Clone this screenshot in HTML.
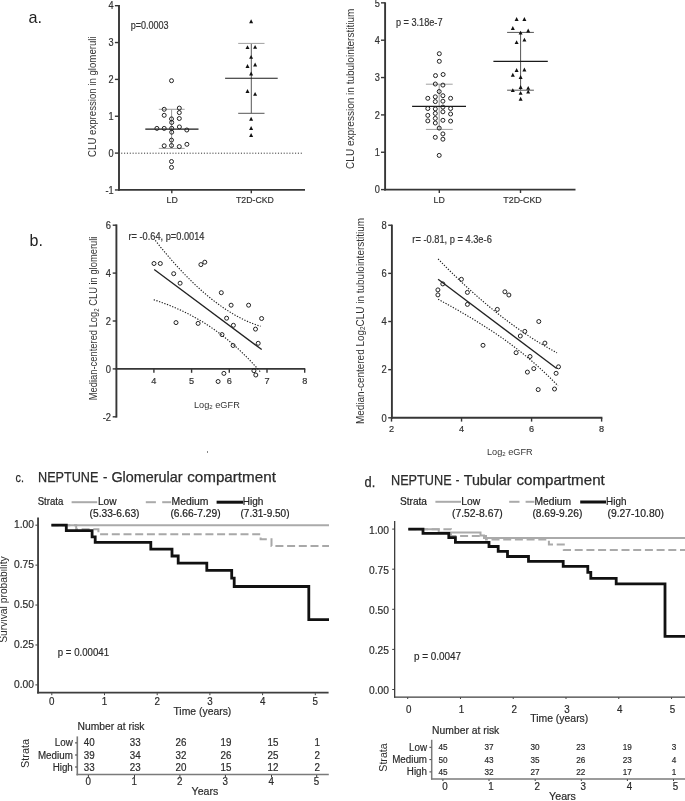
<!DOCTYPE html>
<html><head><meta charset="utf-8"><style>
html,body{margin:0;padding:0;background:#fff;}
svg{display:block;font-family:"Liberation Sans", sans-serif;will-change:transform;}
</style></head><body>
<svg width="685" height="801" viewBox="0 0 685 801">
<rect width="685" height="801" fill="#fff"/>
<text x="28.6" y="22.6" font-size="16.2" fill="#222">a.</text>
<line x1="119" y1="5.0" x2="119" y2="190.8" stroke="#363636" stroke-width="1.9"/>
<line x1="118.1" y1="189.9" x2="305" y2="189.9" stroke="#363636" stroke-width="1.9"/>
<line x1="114.9" y1="5.699999999999989" x2="119" y2="5.699999999999989" stroke="#363636" stroke-width="1.4"/>
<text transform="translate(113.7,9.4) scale(1,1.1)" font-size="9.2" text-anchor="end" fill="#333" stroke="#333" stroke-width="0.18">4</text>
<line x1="114.9" y1="42.54999999999998" x2="119" y2="42.54999999999998" stroke="#363636" stroke-width="1.4"/>
<text transform="translate(113.7,46.25) scale(1,1.1)" font-size="9.2" text-anchor="end" fill="#333" stroke="#333" stroke-width="0.18">3</text>
<line x1="114.9" y1="79.39999999999999" x2="119" y2="79.39999999999999" stroke="#363636" stroke-width="1.4"/>
<text transform="translate(113.7,83.1) scale(1,1.1)" font-size="9.2" text-anchor="end" fill="#333" stroke="#333" stroke-width="0.18">2</text>
<line x1="114.9" y1="116.25" x2="119" y2="116.25" stroke="#363636" stroke-width="1.4"/>
<text transform="translate(113.7,119.95) scale(1,1.1)" font-size="9.2" text-anchor="end" fill="#333" stroke="#333" stroke-width="0.18">1</text>
<line x1="114.9" y1="153.1" x2="119" y2="153.1" stroke="#363636" stroke-width="1.4"/>
<text transform="translate(113.7,156.8) scale(1,1.1)" font-size="9.2" text-anchor="end" fill="#333" stroke="#333" stroke-width="0.18">0</text>
<line x1="114.9" y1="189.95" x2="119" y2="189.95" stroke="#363636" stroke-width="1.4"/>
<text transform="translate(113.7,193.65) scale(1,1.1)" font-size="9.2" text-anchor="end" fill="#333" stroke="#333" stroke-width="0.18">-1</text>
<line x1="171.8" y1="189.9" x2="171.8" y2="193.2" stroke="#363636" stroke-width="1.4"/>
<line x1="251.3" y1="189.9" x2="251.3" y2="193.2" stroke="#363636" stroke-width="1.4"/>
<text transform="translate(172.1,202.9) scale(1,1.1)" font-size="8.8" text-anchor="middle" fill="#333" stroke="#333" stroke-width="0.18">LD</text>
<text transform="translate(236.0,202.9) scale(1,1.1)" font-size="8.8" textLength="37.8" lengthAdjust="spacingAndGlyphs" fill="#333" stroke="#333" stroke-width="0.18">T2D-CKD</text>
<text transform="translate(96.0,156.9) rotate(-90) scale(1,1.08)" font-size="10.0" textLength="120.5" lengthAdjust="spacingAndGlyphs" fill="#333">CLU expression in glomeruli</text>
<text transform="translate(130.7,28.9) scale(1,1.1)" font-size="9.6" textLength="37.9" lengthAdjust="spacingAndGlyphs" fill="#333" stroke="#333" stroke-width="0.18">p=0.0003</text>
<line x1="121.2" y1="153.2" x2="303.5" y2="153.2" stroke="#333" stroke-width="1.0" stroke-dasharray="1.1 1.75"/>
<line x1="171.6" y1="109.3" x2="171.6" y2="148.4" stroke="#999" stroke-width="1.0"/>
<line x1="158.8" y1="109.3" x2="184.7" y2="109.3" stroke="#a0a0a0" stroke-width="1.0"/>
<line x1="158.8" y1="148.4" x2="184.7" y2="148.4" stroke="#a0a0a0" stroke-width="1.0"/>
<line x1="251.3" y1="43.4" x2="251.3" y2="113.3" stroke="#555" stroke-width="1.0"/>
<line x1="238.2" y1="43.4" x2="264.5" y2="43.4" stroke="#a0a0a0" stroke-width="1.0"/>
<line x1="238.2" y1="113.3" x2="264.5" y2="113.3" stroke="#555" stroke-width="1.0"/>
<line x1="145.3" y1="129.1" x2="198.5" y2="129.1" stroke="#1a1a1a" stroke-width="1.15"/>
<line x1="225.1" y1="78.2" x2="277.7" y2="78.2" stroke="#1a1a1a" stroke-width="1.15"/>
<circle cx="171.5" cy="80.7" r="2.0" fill="none" stroke="#222" stroke-width="1.0"/>
<circle cx="164.2" cy="109.3" r="2.0" fill="none" stroke="#222" stroke-width="1.0"/>
<circle cx="179.3" cy="108.1" r="2.0" fill="none" stroke="#222" stroke-width="1.0"/>
<circle cx="164.2" cy="115.3" r="2.0" fill="none" stroke="#222" stroke-width="1.0"/>
<circle cx="179.3" cy="112.6" r="2.0" fill="none" stroke="#222" stroke-width="1.0"/>
<circle cx="171.5" cy="118.9" r="2.0" fill="none" stroke="#222" stroke-width="1.0"/>
<circle cx="179.3" cy="118.5" r="2.0" fill="none" stroke="#222" stroke-width="1.0"/>
<circle cx="171.7" cy="122.5" r="2.0" fill="none" stroke="#222" stroke-width="1.0"/>
<circle cx="156.9" cy="128.4" r="2.0" fill="none" stroke="#222" stroke-width="1.0"/>
<circle cx="164.2" cy="128.4" r="2.0" fill="none" stroke="#222" stroke-width="1.0"/>
<circle cx="171.7" cy="128.3" r="2.0" fill="none" stroke="#222" stroke-width="1.0"/>
<circle cx="179.4" cy="126.9" r="2.0" fill="none" stroke="#222" stroke-width="1.0"/>
<circle cx="186.8" cy="130.0" r="2.0" fill="none" stroke="#222" stroke-width="1.0"/>
<circle cx="171.7" cy="132.2" r="2.0" fill="none" stroke="#222" stroke-width="1.0"/>
<circle cx="171.5" cy="140.1" r="2.0" fill="none" stroke="#222" stroke-width="1.0"/>
<circle cx="164.2" cy="145.8" r="2.0" fill="none" stroke="#222" stroke-width="1.0"/>
<circle cx="171.5" cy="145.5" r="2.0" fill="none" stroke="#222" stroke-width="1.0"/>
<circle cx="179.3" cy="146.6" r="2.0" fill="none" stroke="#222" stroke-width="1.0"/>
<circle cx="186.9" cy="144.3" r="2.0" fill="none" stroke="#222" stroke-width="1.0"/>
<circle cx="171.5" cy="161.5" r="2.0" fill="none" stroke="#222" stroke-width="1.0"/>
<circle cx="171.5" cy="167.4" r="2.0" fill="none" stroke="#222" stroke-width="1.0"/>
<path d="M251.10,19.30L253.10,23.20L249.10,23.20Z" fill="#111"/>
<path d="M247.50,45.20L249.50,49.10L245.50,49.10Z" fill="#111"/>
<path d="M255.10,44.90L257.10,48.80L253.10,48.80Z" fill="#111"/>
<path d="M251.10,54.90L253.10,58.80L249.10,58.80Z" fill="#111"/>
<path d="M247.50,64.00L249.50,67.90L245.50,67.90Z" fill="#111"/>
<path d="M255.10,62.50L257.10,66.40L253.10,66.40Z" fill="#111"/>
<path d="M251.10,71.60L253.10,75.50L249.10,75.50Z" fill="#111"/>
<path d="M247.50,89.10L249.50,93.00L245.50,93.00Z" fill="#111"/>
<path d="M255.10,91.90L257.10,95.80L253.10,95.80Z" fill="#111"/>
<path d="M251.10,116.80L253.10,120.70L249.10,120.70Z" fill="#111"/>
<path d="M251.10,126.00L253.10,129.90L249.10,129.90Z" fill="#111"/>
<path d="M251.10,133.00L253.10,136.90L249.10,136.90Z" fill="#111"/>
<line x1="385.1" y1="2.3" x2="385.1" y2="190.5" stroke="#363636" stroke-width="1.9"/>
<line x1="384.20000000000005" y1="189.6" x2="575.5" y2="189.6" stroke="#363636" stroke-width="1.9"/>
<line x1="381" y1="189.6" x2="385.1" y2="189.6" stroke="#363636" stroke-width="1.4"/>
<text transform="translate(379.8,193.3) scale(1,1.1)" font-size="9.2" text-anchor="end" fill="#333" stroke="#333" stroke-width="0.18">0</text>
<line x1="381" y1="152.25" x2="385.1" y2="152.25" stroke="#363636" stroke-width="1.4"/>
<text transform="translate(379.8,155.95) scale(1,1.1)" font-size="9.2" text-anchor="end" fill="#333" stroke="#333" stroke-width="0.18">1</text>
<line x1="381" y1="114.89999999999999" x2="385.1" y2="114.89999999999999" stroke="#363636" stroke-width="1.4"/>
<text transform="translate(379.8,118.6) scale(1,1.1)" font-size="9.2" text-anchor="end" fill="#333" stroke="#333" stroke-width="0.18">2</text>
<line x1="381" y1="77.54999999999998" x2="385.1" y2="77.54999999999998" stroke="#363636" stroke-width="1.4"/>
<text transform="translate(379.8,81.25) scale(1,1.1)" font-size="9.2" text-anchor="end" fill="#333" stroke="#333" stroke-width="0.18">3</text>
<line x1="381" y1="40.19999999999999" x2="385.1" y2="40.19999999999999" stroke="#363636" stroke-width="1.4"/>
<text transform="translate(379.8,43.9) scale(1,1.1)" font-size="9.2" text-anchor="end" fill="#333" stroke="#333" stroke-width="0.18">4</text>
<line x1="381" y1="2.8499999999999943" x2="385.1" y2="2.8499999999999943" stroke="#363636" stroke-width="1.4"/>
<text transform="translate(379.8,6.55) scale(1,1.1)" font-size="9.2" text-anchor="end" fill="#333" stroke="#333" stroke-width="0.18">5</text>
<line x1="439.3" y1="189.6" x2="439.3" y2="193.0" stroke="#363636" stroke-width="1.4"/>
<line x1="520.5" y1="189.6" x2="520.5" y2="193.0" stroke="#363636" stroke-width="1.4"/>
<text transform="translate(439.2,202.6) scale(1,1.1)" font-size="8.8" text-anchor="middle" fill="#333" stroke="#333" stroke-width="0.18">LD</text>
<text transform="translate(503.3,202.6) scale(1,1.1)" font-size="8.8" textLength="38.4" lengthAdjust="spacingAndGlyphs" fill="#333" stroke="#333" stroke-width="0.18">T2D-CKD</text>
<text transform="translate(353.9,168.9) rotate(-90) scale(1,1.0)" font-size="10.9" textLength="160.2" lengthAdjust="spacingAndGlyphs" fill="#333">CLU expression in tubulointerstitium</text>
<text transform="translate(395.9,26.2) scale(1,1.1)" font-size="9.6" textLength="46.6" lengthAdjust="spacingAndGlyphs" fill="#333" stroke="#333" stroke-width="0.18">p = 3.18e-7</text>
<line x1="439.2" y1="84.2" x2="439.2" y2="129.4" stroke="#999" stroke-width="1.0"/>
<line x1="425.9" y1="84.2" x2="452.7" y2="84.2" stroke="#a0a0a0" stroke-width="1.0"/>
<line x1="425.9" y1="129.4" x2="452.7" y2="129.4" stroke="#a0a0a0" stroke-width="1.0"/>
<line x1="412.1" y1="106.3" x2="466.0" y2="106.3" stroke="#1a1a1a" stroke-width="1.15"/>
<line x1="520.6" y1="32.4" x2="520.6" y2="90.2" stroke="#555" stroke-width="1.0"/>
<line x1="507.1" y1="32.4" x2="533.9" y2="32.4" stroke="#555" stroke-width="1.0"/>
<line x1="507.1" y1="90.2" x2="533.9" y2="90.2" stroke="#555" stroke-width="1.0"/>
<line x1="493.4" y1="61.3" x2="547.8" y2="61.3" stroke="#1a1a1a" stroke-width="1.15"/>
<circle cx="439.3" cy="53.7" r="2.0" fill="none" stroke="#222" stroke-width="1.0"/>
<circle cx="439.3" cy="61.3" r="2.0" fill="none" stroke="#222" stroke-width="1.0"/>
<circle cx="435.5" cy="75.6" r="2.0" fill="none" stroke="#222" stroke-width="1.0"/>
<circle cx="443.1" cy="74.5" r="2.0" fill="none" stroke="#222" stroke-width="1.0"/>
<circle cx="435.3" cy="84.0" r="2.0" fill="none" stroke="#222" stroke-width="1.0"/>
<circle cx="442.9" cy="85.1" r="2.0" fill="none" stroke="#222" stroke-width="1.0"/>
<circle cx="439.2" cy="91.5" r="2.0" fill="none" stroke="#222" stroke-width="1.0"/>
<circle cx="427.8" cy="98.3" r="2.0" fill="none" stroke="#222" stroke-width="1.0"/>
<circle cx="435.3" cy="96.8" r="2.0" fill="none" stroke="#222" stroke-width="1.0"/>
<circle cx="442.9" cy="95.7" r="2.0" fill="none" stroke="#222" stroke-width="1.0"/>
<circle cx="450.6" cy="98.3" r="2.0" fill="none" stroke="#222" stroke-width="1.0"/>
<circle cx="435.3" cy="101.6" r="2.0" fill="none" stroke="#222" stroke-width="1.0"/>
<circle cx="442.9" cy="101.2" r="2.0" fill="none" stroke="#222" stroke-width="1.0"/>
<circle cx="427.8" cy="108.5" r="2.0" fill="none" stroke="#222" stroke-width="1.0"/>
<circle cx="435.3" cy="108.9" r="2.0" fill="none" stroke="#222" stroke-width="1.0"/>
<circle cx="442.9" cy="107.1" r="2.0" fill="none" stroke="#222" stroke-width="1.0"/>
<circle cx="450.6" cy="108.5" r="2.0" fill="none" stroke="#222" stroke-width="1.0"/>
<circle cx="427.8" cy="115.4" r="2.0" fill="none" stroke="#222" stroke-width="1.0"/>
<circle cx="435.3" cy="113.4" r="2.0" fill="none" stroke="#222" stroke-width="1.0"/>
<circle cx="442.9" cy="111.8" r="2.0" fill="none" stroke="#222" stroke-width="1.0"/>
<circle cx="450.6" cy="114.0" r="2.0" fill="none" stroke="#222" stroke-width="1.0"/>
<circle cx="435.3" cy="118.4" r="2.0" fill="none" stroke="#222" stroke-width="1.0"/>
<circle cx="427.8" cy="120.9" r="2.0" fill="none" stroke="#222" stroke-width="1.0"/>
<circle cx="435.3" cy="123.0" r="2.0" fill="none" stroke="#222" stroke-width="1.0"/>
<circle cx="442.9" cy="120.3" r="2.0" fill="none" stroke="#222" stroke-width="1.0"/>
<circle cx="450.6" cy="121.1" r="2.0" fill="none" stroke="#222" stroke-width="1.0"/>
<circle cx="439.2" cy="128.1" r="2.0" fill="none" stroke="#222" stroke-width="1.0"/>
<circle cx="442.9" cy="133.9" r="2.0" fill="none" stroke="#222" stroke-width="1.0"/>
<circle cx="435.3" cy="137.3" r="2.0" fill="none" stroke="#222" stroke-width="1.0"/>
<circle cx="442.9" cy="139.2" r="2.0" fill="none" stroke="#222" stroke-width="1.0"/>
<circle cx="439.2" cy="155.4" r="2.0" fill="none" stroke="#222" stroke-width="1.0"/>
<path d="M516.60,17.00L518.60,20.90L514.60,20.90Z" fill="#111"/>
<path d="M524.40,17.00L526.40,20.90L522.40,20.90Z" fill="#111"/>
<path d="M512.80,26.10L514.80,30.00L510.80,30.00Z" fill="#111"/>
<path d="M528.20,28.60L530.20,32.50L526.20,32.50Z" fill="#111"/>
<path d="M520.60,30.70L522.60,34.60L518.60,34.60Z" fill="#111"/>
<path d="M524.40,37.70L526.40,41.60L522.40,41.60Z" fill="#111"/>
<path d="M516.60,40.20L518.60,44.10L514.60,44.10Z" fill="#111"/>
<path d="M516.60,68.10L518.60,72.00L514.60,72.00Z" fill="#111"/>
<path d="M524.40,67.60L526.40,71.50L522.40,71.50Z" fill="#111"/>
<path d="M512.80,72.80L514.80,76.70L510.80,76.70Z" fill="#111"/>
<path d="M520.60,75.00L522.60,78.90L518.60,78.90Z" fill="#111"/>
<path d="M520.60,85.10L522.60,89.00L518.60,89.00Z" fill="#111"/>
<path d="M528.20,85.90L530.20,89.80L526.20,89.80Z" fill="#111"/>
<path d="M512.80,88.20L514.80,92.10L510.80,92.10Z" fill="#111"/>
<path d="M528.20,89.70L530.20,93.60L526.20,93.60Z" fill="#111"/>
<path d="M520.60,90.90L522.60,94.80L518.60,94.80Z" fill="#111"/>
<path d="M520.60,96.80L522.60,100.70L518.60,100.70Z" fill="#111"/>
<text x="29.6" y="245.6" font-size="16.0" fill="#222">b.</text>
<line x1="116.4" y1="224.4" x2="116.4" y2="417.6" stroke="#363636" stroke-width="1.9"/>
<line x1="115.5" y1="368.9" x2="305.3" y2="368.9" stroke="#363636" stroke-width="1.9"/>
<line x1="112.7" y1="225.2" x2="116.4" y2="225.2" stroke="#363636" stroke-width="1.4"/>
<text transform="translate(111.0,229.0) scale(1,1.15)" font-size="9.4" text-anchor="end" fill="#333" stroke="#333" stroke-width="0.18">6</text>
<line x1="112.7" y1="273.09999999999997" x2="116.4" y2="273.09999999999997" stroke="#363636" stroke-width="1.4"/>
<text transform="translate(111.0,276.9) scale(1,1.15)" font-size="9.4" text-anchor="end" fill="#333" stroke="#333" stroke-width="0.18">4</text>
<line x1="112.7" y1="321.0" x2="116.4" y2="321.0" stroke="#363636" stroke-width="1.4"/>
<text transform="translate(111.0,324.8) scale(1,1.15)" font-size="9.4" text-anchor="end" fill="#333" stroke="#333" stroke-width="0.18">2</text>
<line x1="112.7" y1="368.9" x2="116.4" y2="368.9" stroke="#363636" stroke-width="1.4"/>
<text transform="translate(111.0,372.7) scale(1,1.15)" font-size="9.4" text-anchor="end" fill="#333" stroke="#333" stroke-width="0.18">0</text>
<line x1="112.7" y1="416.79999999999995" x2="116.4" y2="416.79999999999995" stroke="#363636" stroke-width="1.4"/>
<text transform="translate(111.0,420.6) scale(1,1.15)" font-size="9.4" text-anchor="end" fill="#333" stroke="#333" stroke-width="0.18">-2</text>
<line x1="153.9" y1="368.9" x2="153.9" y2="372.8" stroke="#363636" stroke-width="1.4"/>
<text transform="translate(153.9,383.5) scale(1,1.03)" font-size="9.2" text-anchor="middle" fill="#333" stroke="#333" stroke-width="0.18">4</text>
<line x1="191.60000000000002" y1="368.9" x2="191.60000000000002" y2="372.8" stroke="#363636" stroke-width="1.4"/>
<text transform="translate(191.60000000000002,383.5) scale(1,1.03)" font-size="9.2" text-anchor="middle" fill="#333" stroke="#333" stroke-width="0.18">5</text>
<line x1="229.3" y1="368.9" x2="229.3" y2="372.8" stroke="#363636" stroke-width="1.4"/>
<text transform="translate(229.3,383.5) scale(1,1.03)" font-size="9.2" text-anchor="middle" fill="#333" stroke="#333" stroke-width="0.18">6</text>
<line x1="267.0" y1="368.9" x2="267.0" y2="372.8" stroke="#363636" stroke-width="1.4"/>
<text transform="translate(267.0,383.5) scale(1,1.03)" font-size="9.2" text-anchor="middle" fill="#333" stroke="#333" stroke-width="0.18">7</text>
<line x1="304.70000000000005" y1="368.9" x2="304.70000000000005" y2="372.8" stroke="#363636" stroke-width="1.4"/>
<text transform="translate(304.70000000000005,383.5) scale(1,1.03)" font-size="9.2" text-anchor="middle" fill="#333" stroke="#333" stroke-width="0.18">8</text>
<text transform="translate(194,407.9)" font-size="9.2" fill="#333" textLength="45.8" lengthAdjust="spacingAndGlyphs">Log<tspan font-size="6" dy="1.5">2</tspan><tspan dy="-1.5"> eGFR</tspan></text>
<text transform="translate(97.1,400.2) rotate(-90) scale(1,1.08)" font-size="9.4" fill="#333" textLength="163.6" lengthAdjust="spacingAndGlyphs">Median-centered Log<tspan font-size="6" dy="1.5">2</tspan><tspan dy="-1.5"> CLU in glomeruli</tspan></text>
<text transform="translate(128.5,240.4) scale(1,1.1)" font-size="9.4" textLength="76.0" lengthAdjust="spacingAndGlyphs" fill="#333" stroke="#333" stroke-width="0.18">r= -0.64, p=0.0014</text>
<circle cx="154" cy="263.5" r="2.0" fill="none" stroke="#222" stroke-width="1.0"/>
<circle cx="160.3" cy="263.5" r="2.0" fill="none" stroke="#222" stroke-width="1.0"/>
<circle cx="173.7" cy="273.7" r="2.0" fill="none" stroke="#222" stroke-width="1.0"/>
<circle cx="180.1" cy="283.2" r="2.0" fill="none" stroke="#222" stroke-width="1.0"/>
<circle cx="200.9" cy="264.6" r="2.0" fill="none" stroke="#222" stroke-width="1.0"/>
<circle cx="204.8" cy="262.2" r="2.0" fill="none" stroke="#222" stroke-width="1.0"/>
<circle cx="221.3" cy="292.7" r="2.0" fill="none" stroke="#222" stroke-width="1.0"/>
<circle cx="231.1" cy="305.2" r="2.0" fill="none" stroke="#222" stroke-width="1.0"/>
<circle cx="248.6" cy="305.2" r="2.0" fill="none" stroke="#222" stroke-width="1.0"/>
<circle cx="176" cy="322.6" r="2.0" fill="none" stroke="#222" stroke-width="1.0"/>
<circle cx="198.1" cy="323.4" r="2.0" fill="none" stroke="#222" stroke-width="1.0"/>
<circle cx="226.6" cy="318.2" r="2.0" fill="none" stroke="#222" stroke-width="1.0"/>
<circle cx="233.4" cy="325.3" r="2.0" fill="none" stroke="#222" stroke-width="1.0"/>
<circle cx="222" cy="334.6" r="2.0" fill="none" stroke="#222" stroke-width="1.0"/>
<circle cx="233.1" cy="345.5" r="2.0" fill="none" stroke="#222" stroke-width="1.0"/>
<circle cx="261.6" cy="318.5" r="2.0" fill="none" stroke="#222" stroke-width="1.0"/>
<circle cx="255.5" cy="329.1" r="2.0" fill="none" stroke="#222" stroke-width="1.0"/>
<circle cx="258.2" cy="343.3" r="2.0" fill="none" stroke="#222" stroke-width="1.0"/>
<circle cx="223.9" cy="373.4" r="2.0" fill="none" stroke="#222" stroke-width="1.0"/>
<circle cx="218.1" cy="381.5" r="2.0" fill="none" stroke="#222" stroke-width="1.0"/>
<circle cx="253.9" cy="370.7" r="2.0" fill="none" stroke="#222" stroke-width="1.0"/>
<circle cx="255.8" cy="375" r="2.0" fill="none" stroke="#222" stroke-width="1.0"/>
<line x1="154.2" y1="269.5" x2="261.7" y2="349.6" stroke="#222" stroke-width="1.3"/>
<polyline points="155.30,240.45 157.06,242.67 158.81,244.86 160.56,247.03 162.32,249.17 164.08,251.29 165.83,253.39 167.59,255.46 169.34,257.51 171.09,259.53 172.85,261.53 174.61,263.51 176.36,265.46 178.12,267.38 179.87,269.28 181.62,271.15 183.38,273.00 185.14,274.82 186.89,276.62 188.65,278.39 190.40,280.13 192.16,281.85 193.91,283.54 195.67,285.20 197.42,286.84 199.18,288.45 200.93,290.03 202.69,291.58 204.44,293.11 206.20,294.61 207.95,296.08 209.71,297.52 211.46,298.93 213.22,300.32 214.97,301.68 216.73,303.00 218.48,304.30 220.24,305.57 221.99,306.81 223.75,308.02 225.50,309.20 227.25,310.35 229.01,311.47 230.77,312.56 232.52,313.62 234.28,314.65 236.03,315.65 237.79,316.62 239.54,317.55 241.30,318.46 243.05,319.33 244.81,320.17 246.56,320.98 248.32,321.76 250.07,322.50 251.83,323.22 253.58,323.90 255.34,324.55 257.09,325.16 258.85,325.74 260.60,326.29" fill="none" stroke="#222" stroke-width="1.15" stroke-dasharray="1.3 1.5"/>
<polyline points="153.70,299.75 155.49,300.33 157.28,300.92 159.06,301.53 160.85,302.16 162.64,302.79 164.43,303.45 166.22,304.12 168.01,304.81 169.79,305.51 171.58,306.24 173.37,306.98 175.16,307.73 176.95,308.51 178.74,309.31 180.52,310.12 182.31,310.96 184.10,311.81 185.89,312.69 187.68,313.58 189.47,314.50 191.25,315.44 193.04,316.40 194.83,317.38 196.62,318.38 198.41,319.41 200.20,320.46 201.98,321.53 203.77,322.63 205.56,323.75 207.35,324.90 209.14,326.07 210.93,327.27 212.72,328.49 214.50,329.74 216.29,331.02 218.08,332.32 219.87,333.65 221.66,335.01 223.44,336.39 225.23,337.81 227.02,339.25 228.81,340.72 230.60,342.22 232.39,343.75 234.18,345.31 235.96,346.90 237.75,348.52 239.54,350.17 241.33,351.86 243.12,353.57 244.90,355.32 246.69,357.10 248.48,358.91 250.27,360.76 252.06,362.64 253.85,364.55 255.63,366.50 257.42,368.49 259.21,370.50 261.00,372.56" fill="none" stroke="#222" stroke-width="1.15" stroke-dasharray="1.3 1.5"/>
<line x1="391.9" y1="224.6" x2="391.9" y2="418.7" stroke="#363636" stroke-width="1.9"/>
<line x1="391.0" y1="417.8" x2="602.4" y2="417.8" stroke="#363636" stroke-width="1.9"/>
<line x1="388.2" y1="225.24" x2="391.9" y2="225.24" stroke="#363636" stroke-width="1.4"/>
<text transform="translate(386.6,229.04) scale(1,1.15)" font-size="9.4" text-anchor="end" fill="#333" stroke="#333" stroke-width="0.18">8</text>
<line x1="388.2" y1="273.38" x2="391.9" y2="273.38" stroke="#363636" stroke-width="1.4"/>
<text transform="translate(386.6,277.18) scale(1,1.15)" font-size="9.4" text-anchor="end" fill="#333" stroke="#333" stroke-width="0.18">6</text>
<line x1="388.2" y1="321.52" x2="391.9" y2="321.52" stroke="#363636" stroke-width="1.4"/>
<text transform="translate(386.6,325.32) scale(1,1.15)" font-size="9.4" text-anchor="end" fill="#333" stroke="#333" stroke-width="0.18">4</text>
<line x1="388.2" y1="369.66" x2="391.9" y2="369.66" stroke="#363636" stroke-width="1.4"/>
<text transform="translate(386.6,373.46) scale(1,1.15)" font-size="9.4" text-anchor="end" fill="#333" stroke="#333" stroke-width="0.18">2</text>
<line x1="388.2" y1="417.8" x2="391.9" y2="417.8" stroke="#363636" stroke-width="1.4"/>
<text transform="translate(386.6,421.6) scale(1,1.15)" font-size="9.4" text-anchor="end" fill="#333" stroke="#333" stroke-width="0.18">0</text>
<line x1="391.5" y1="417.8" x2="391.5" y2="421.6" stroke="#363636" stroke-width="1.4"/>
<text transform="translate(391.5,432.2) scale(1,1.03)" font-size="9.2" text-anchor="middle" fill="#333" stroke="#333" stroke-width="0.18">2</text>
<line x1="461.54" y1="417.8" x2="461.54" y2="421.6" stroke="#363636" stroke-width="1.4"/>
<text transform="translate(461.54,432.2) scale(1,1.03)" font-size="9.2" text-anchor="middle" fill="#333" stroke="#333" stroke-width="0.18">4</text>
<line x1="531.58" y1="417.8" x2="531.58" y2="421.6" stroke="#363636" stroke-width="1.4"/>
<text transform="translate(531.58,432.2) scale(1,1.03)" font-size="9.2" text-anchor="middle" fill="#333" stroke="#333" stroke-width="0.18">6</text>
<line x1="601.62" y1="417.8" x2="601.62" y2="421.6" stroke="#363636" stroke-width="1.4"/>
<text transform="translate(601.62,432.2) scale(1,1.03)" font-size="9.2" text-anchor="middle" fill="#333" stroke="#333" stroke-width="0.18">8</text>
<text transform="translate(487,454.9)" font-size="9.2" fill="#333" textLength="45.6" lengthAdjust="spacingAndGlyphs">Log<tspan font-size="6" dy="1.5">2</tspan><tspan dy="-1.5"> eGFR</tspan></text>
<text transform="translate(363.5,424) rotate(-90) scale(1,1.15)" font-size="9.4" fill="#333" textLength="206" lengthAdjust="spacingAndGlyphs">Median-centered Log<tspan font-size="6" dy="1.5">2</tspan><tspan dy="-1.5">CLU in tubulointerstitium</tspan></text>
<text transform="translate(412.3,243.4) scale(1,1.1)" font-size="9.4" textLength="79.5" lengthAdjust="spacingAndGlyphs" fill="#333" stroke="#333" stroke-width="0.18">r= -0.81, p = 4.3e-6</text>
<circle cx="437.9" cy="289.9" r="2.0" fill="none" stroke="#222" stroke-width="1.0"/>
<circle cx="437.9" cy="294.9" r="2.0" fill="none" stroke="#222" stroke-width="1.0"/>
<circle cx="442.8" cy="283.9" r="2.0" fill="none" stroke="#222" stroke-width="1.0"/>
<circle cx="461.4" cy="279.3" r="2.0" fill="none" stroke="#222" stroke-width="1.0"/>
<circle cx="467.4" cy="292.4" r="2.0" fill="none" stroke="#222" stroke-width="1.0"/>
<circle cx="467.4" cy="304.4" r="2.0" fill="none" stroke="#222" stroke-width="1.0"/>
<circle cx="497.3" cy="309.4" r="2.0" fill="none" stroke="#222" stroke-width="1.0"/>
<circle cx="504.9" cy="291.8" r="2.0" fill="none" stroke="#222" stroke-width="1.0"/>
<circle cx="508.9" cy="295.0" r="2.0" fill="none" stroke="#222" stroke-width="1.0"/>
<circle cx="483.0" cy="345.3" r="2.0" fill="none" stroke="#222" stroke-width="1.0"/>
<circle cx="520.3" cy="336.0" r="2.0" fill="none" stroke="#222" stroke-width="1.0"/>
<circle cx="524.8" cy="331.4" r="2.0" fill="none" stroke="#222" stroke-width="1.0"/>
<circle cx="538.8" cy="321.5" r="2.0" fill="none" stroke="#222" stroke-width="1.0"/>
<circle cx="544.9" cy="343.1" r="2.0" fill="none" stroke="#222" stroke-width="1.0"/>
<circle cx="516.1" cy="352.7" r="2.0" fill="none" stroke="#222" stroke-width="1.0"/>
<circle cx="530.0" cy="356.5" r="2.0" fill="none" stroke="#222" stroke-width="1.0"/>
<circle cx="527.4" cy="372.1" r="2.0" fill="none" stroke="#222" stroke-width="1.0"/>
<circle cx="533.8" cy="368.6" r="2.0" fill="none" stroke="#222" stroke-width="1.0"/>
<circle cx="556.1" cy="373.3" r="2.0" fill="none" stroke="#222" stroke-width="1.0"/>
<circle cx="558.5" cy="366.8" r="2.0" fill="none" stroke="#222" stroke-width="1.0"/>
<circle cx="538.2" cy="389.6" r="2.0" fill="none" stroke="#222" stroke-width="1.0"/>
<circle cx="554.5" cy="389.0" r="2.0" fill="none" stroke="#222" stroke-width="1.0"/>
<line x1="438.1" y1="279.3" x2="556.7" y2="368.6" stroke="#222" stroke-width="1.3"/>
<polyline points="438.10,258.98 440.08,261.02 442.06,263.04 444.05,265.05 446.03,267.04 448.01,269.02 449.99,270.98 451.97,272.93 453.95,274.86 455.94,276.78 457.92,278.68 459.90,280.56 461.88,282.43 463.86,284.29 465.84,286.12 467.82,287.95 469.81,289.75 471.79,291.55 473.77,293.32 475.75,295.08 477.73,296.82 479.72,298.55 481.70,300.26 483.68,301.96 485.66,303.63 487.64,305.30 489.62,306.94 491.61,308.57 493.59,310.18 495.57,311.78 497.55,313.36 499.53,314.92 501.51,316.47 503.50,318.00 505.48,319.51 507.46,321.01 509.44,322.49 511.42,323.95 513.40,325.40 515.38,326.83 517.37,328.24 519.35,329.63 521.33,331.01 523.31,332.37 525.29,333.71 527.27,335.04 529.26,336.35 531.24,337.64 533.22,338.91 535.20,340.17 537.18,341.41 539.16,342.63 541.15,343.83 543.13,345.01 545.11,346.18 547.09,347.33 549.07,348.46 551.05,349.58 553.04,350.67 555.02,351.75 557.00,352.81" fill="none" stroke="#222" stroke-width="1.15" stroke-dasharray="1.3 1.5"/>
<polyline points="438.10,299.17 440.10,300.28 442.10,301.38 444.10,302.49 446.09,303.60 448.09,304.72 450.09,305.84 452.09,306.96 454.09,308.09 456.09,309.22 458.08,310.36 460.08,311.51 462.08,312.66 464.08,313.82 466.08,314.99 468.07,316.17 470.07,317.36 472.07,318.55 474.07,319.76 476.07,320.97 478.07,322.20 480.06,323.44 482.06,324.69 484.06,325.95 486.06,327.23 488.06,328.52 490.06,329.82 492.06,331.13 494.05,332.47 496.05,333.81 498.05,335.18 500.05,336.55 502.05,337.95 504.05,339.36 506.04,340.79 508.04,342.24 510.04,343.71 512.04,345.20 514.04,346.71 516.03,348.23 518.03,349.78 520.03,351.35 522.03,352.94 524.03,354.55 526.03,356.19 528.02,357.85 530.02,359.53 532.02,361.23 534.02,362.96 536.02,364.72 538.02,366.50 540.01,368.31 542.01,370.14 544.01,372.01 546.01,373.89 548.01,375.81 550.01,377.76 552.00,379.73 554.00,381.74 556.00,383.77 558.00,385.83" fill="none" stroke="#222" stroke-width="1.15" stroke-dasharray="1.3 1.5"/>
<rect x="207" y="451" width="1" height="2" fill="#888"/>
<text x="15.6" y="481.9" font-size="13.6" textLength="8.4" lengthAdjust="spacingAndGlyphs" fill="#2b2b2b" stroke="#2b2b2b" stroke-width="0.25">c.</text>
<text x="38.0" y="481.7" font-size="14.6" textLength="60.4" lengthAdjust="spacingAndGlyphs" fill="#2b2b2b" stroke="#2b2b2b" stroke-width="0.25">NEPTUNE</text>
<text x="103.1" y="481.7" font-size="13.8" textLength="4.4" lengthAdjust="spacingAndGlyphs" fill="#2b2b2b" stroke="#2b2b2b" stroke-width="0.25">-</text>
<text x="111.4" y="481.7" font-size="13.9" textLength="71.1" lengthAdjust="spacingAndGlyphs" fill="#2b2b2b" stroke="#2b2b2b" stroke-width="0.25">Glomerular</text>
<text x="187.2" y="481.7" font-size="13.9" textLength="88.71" lengthAdjust="spacingAndGlyphs" fill="#2b2b2b" stroke="#2b2b2b" stroke-width="0.25">compartment</text>
<text transform="translate(37.7,505.0) scale(1,1.1)" font-size="9.6" textLength="25.6" lengthAdjust="spacingAndGlyphs" fill="#222" stroke="#222" stroke-width="0.18">Strata</text>
<line x1="71.6" y1="502.2" x2="97.2" y2="502.2" stroke="#aaa" stroke-width="2.0"/>
<text transform="translate(97.9,505.0) scale(1,1.1)" font-size="9.6" textLength="18.6" lengthAdjust="spacingAndGlyphs" fill="#222" stroke="#222" stroke-width="0.18">Low</text>
<text transform="translate(89.6,516.8) scale(1,1.1)" font-size="9.6" textLength="49.9" lengthAdjust="spacingAndGlyphs" fill="#222" stroke="#222" stroke-width="0.18">(5.33-6.63)</text>
<line x1="145.8" y1="502.2" x2="155.9" y2="502.2" stroke="#aaa" stroke-width="2.0"/>
<line x1="162.2" y1="502.2" x2="171.2" y2="502.2" stroke="#aaa" stroke-width="2.0"/>
<text transform="translate(171.5,505.0) scale(1,1.1)" font-size="9.6" textLength="37.0" lengthAdjust="spacingAndGlyphs" fill="#222" stroke="#222" stroke-width="0.18">Medium</text>
<text transform="translate(170.4,516.8) scale(1,1.1)" font-size="9.6" textLength="50.2" lengthAdjust="spacingAndGlyphs" fill="#222" stroke="#222" stroke-width="0.18">(6.66-7.29)</text>
<line x1="216.6" y1="502.2" x2="243.2" y2="502.2" stroke="#111" stroke-width="3.0"/>
<text transform="translate(242.8,505.0) scale(1,1.1)" font-size="9.6" textLength="20.6" lengthAdjust="spacingAndGlyphs" fill="#222" stroke="#222" stroke-width="0.18">High</text>
<text transform="translate(240.5,516.8) scale(1,1.1)" font-size="9.6" textLength="49.0" lengthAdjust="spacingAndGlyphs" fill="#222" stroke="#222" stroke-width="0.18">(7.31-9.50)</text>
<line x1="38.05" y1="517.4" x2="38.05" y2="693.6" stroke="#3e3e3e" stroke-width="1.85"/>
<line x1="37.1" y1="692.7" x2="328.6" y2="692.7" stroke="#3e3e3e" stroke-width="1.8"/>
<line x1="35.4" y1="525.2" x2="37.5" y2="525.2" stroke="#3e3e3e" stroke-width="1.0"/>
<text transform="translate(34.0,527.9) scale(1,1.1)" font-size="10.3" text-anchor="end" fill="#2b2b2b" stroke="#2b2b2b" stroke-width="0.18">1.00</text>
<line x1="35.4" y1="565.125" x2="37.5" y2="565.125" stroke="#3e3e3e" stroke-width="1.0"/>
<text transform="translate(34.0,567.83) scale(1,1.1)" font-size="10.3" text-anchor="end" fill="#2b2b2b" stroke="#2b2b2b" stroke-width="0.18">0.75</text>
<line x1="35.4" y1="605.0500000000001" x2="37.5" y2="605.0500000000001" stroke="#3e3e3e" stroke-width="1.0"/>
<text transform="translate(34.0,607.75) scale(1,1.1)" font-size="10.3" text-anchor="end" fill="#2b2b2b" stroke="#2b2b2b" stroke-width="0.18">0.50</text>
<line x1="35.4" y1="644.975" x2="37.5" y2="644.975" stroke="#3e3e3e" stroke-width="1.0"/>
<text transform="translate(34.0,647.68) scale(1,1.1)" font-size="10.3" text-anchor="end" fill="#2b2b2b" stroke="#2b2b2b" stroke-width="0.18">0.25</text>
<line x1="35.4" y1="684.9000000000001" x2="37.5" y2="684.9000000000001" stroke="#3e3e3e" stroke-width="1.0"/>
<text transform="translate(34.0,687.6) scale(1,1.1)" font-size="10.3" text-anchor="end" fill="#2b2b2b" stroke="#2b2b2b" stroke-width="0.18">0.00</text>
<line x1="51.8" y1="693.2" x2="51.8" y2="695.2" stroke="#3e3e3e" stroke-width="1.0"/>
<text transform="translate(51.8,705.0) scale(1,1.1)" font-size="9.8" text-anchor="middle" fill="#2b2b2b" stroke="#2b2b2b" stroke-width="0.18">0</text>
<line x1="104.5" y1="693.2" x2="104.5" y2="695.2" stroke="#3e3e3e" stroke-width="1.0"/>
<text transform="translate(104.5,705.0) scale(1,1.1)" font-size="9.8" text-anchor="middle" fill="#2b2b2b" stroke="#2b2b2b" stroke-width="0.18">1</text>
<line x1="157.2" y1="693.2" x2="157.2" y2="695.2" stroke="#3e3e3e" stroke-width="1.0"/>
<text transform="translate(157.2,705.0) scale(1,1.1)" font-size="9.8" text-anchor="middle" fill="#2b2b2b" stroke="#2b2b2b" stroke-width="0.18">2</text>
<line x1="209.90000000000003" y1="693.2" x2="209.90000000000003" y2="695.2" stroke="#3e3e3e" stroke-width="1.0"/>
<text transform="translate(209.90000000000003,705.0) scale(1,1.1)" font-size="9.8" text-anchor="middle" fill="#2b2b2b" stroke="#2b2b2b" stroke-width="0.18">3</text>
<line x1="262.6" y1="693.2" x2="262.6" y2="695.2" stroke="#3e3e3e" stroke-width="1.0"/>
<text transform="translate(262.6,705.0) scale(1,1.1)" font-size="9.8" text-anchor="middle" fill="#2b2b2b" stroke="#2b2b2b" stroke-width="0.18">4</text>
<line x1="315.3" y1="693.2" x2="315.3" y2="695.2" stroke="#3e3e3e" stroke-width="1.0"/>
<text transform="translate(315.3,705.0) scale(1,1.1)" font-size="9.8" text-anchor="middle" fill="#2b2b2b" stroke="#2b2b2b" stroke-width="0.18">5</text>
<text transform="translate(173.4,714.6) scale(1,1.1)" font-size="9.8" textLength="57.9" lengthAdjust="spacingAndGlyphs" fill="#2b2b2b" stroke="#2b2b2b" stroke-width="0.18">Time (years)</text>
<text transform="translate(57.8,656.0) scale(1,1.1)" font-size="9.8" textLength="51.2" lengthAdjust="spacingAndGlyphs" fill="#2b2b2b" stroke="#2b2b2b" stroke-width="0.18">p = 0.00041</text>
<text transform="translate(7.4,642.8) rotate(-90) scale(1,1.1)" font-size="9.9" textLength="86.5" lengthAdjust="spacingAndGlyphs" fill="#2b2b2b">Survival probability</text>
<polyline points="51.40,525.20 329.00,525.20" fill="none" stroke="#aaa" stroke-width="2.0"/>
<polyline points="51.40,525.20 76.20,525.20 76.20,529.30 98.40,529.30 98.40,534.20 260.60,534.20 260.60,539.30 271.50,539.30 271.50,546.10 329.00,546.10" fill="none" stroke="#a8a8a8" stroke-width="2.0" stroke-dasharray="8 3.7" stroke-dashoffset="0.8"/>
<polyline points="51.40,525.20 66.30,525.20 66.30,530.60 92.10,530.60 92.10,536.90 95.20,536.90 95.20,542.30 150.80,542.30 150.80,549.20 172.00,549.20 172.00,556.00 178.20,556.00 178.20,563.20 206.80,563.20 206.80,570.30 231.70,570.30 231.70,578.10 234.20,578.10 234.20,586.50 308.80,586.50 308.80,619.60 329.00,619.60" fill="none" stroke="#111" stroke-width="2.8" stroke-linejoin="miter" stroke-linecap="butt"/>
<text transform="translate(77.5,729.8) scale(1,1.1)" font-size="9.8" textLength="67.0" lengthAdjust="spacingAndGlyphs" fill="#2b2b2b" stroke="#2b2b2b" stroke-width="0.18">Number at risk</text>
<text transform="translate(29.2,768.0) rotate(-90) scale(1,1.1)" font-size="10.6" textLength="29.0" lengthAdjust="spacingAndGlyphs" fill="#2b2b2b">Strata</text>
<line x1="77.3" y1="736.4" x2="77.3" y2="775.4" stroke="#7a7a7a" stroke-width="1.6"/>
<line x1="76.5" y1="774.6" x2="328.8" y2="774.6" stroke="#7a7a7a" stroke-width="1.5"/>
<line x1="75.0" y1="742.9" x2="77.0" y2="742.9" stroke="#3e3e3e" stroke-width="1.0"/>
<text transform="translate(72.8,746.4) scale(1,1.1)" font-size="9.8" text-anchor="end" fill="#2b2b2b" stroke="#2b2b2b" stroke-width="0.18">Low</text>
<text transform="translate(89.3,746.4) scale(1,1.1)" font-size="9.8" text-anchor="middle" fill="#2b2b2b" stroke="#2b2b2b" stroke-width="0.18">40</text>
<text transform="translate(135.2,746.4) scale(1,1.1)" font-size="9.8" text-anchor="middle" fill="#2b2b2b" stroke="#2b2b2b" stroke-width="0.18">33</text>
<text transform="translate(180.9,746.4) scale(1,1.1)" font-size="9.8" text-anchor="middle" fill="#2b2b2b" stroke="#2b2b2b" stroke-width="0.18">26</text>
<text transform="translate(225.9,746.4) scale(1,1.1)" font-size="9.8" text-anchor="middle" fill="#2b2b2b" stroke="#2b2b2b" stroke-width="0.18">19</text>
<text transform="translate(272.9,746.4) scale(1,1.1)" font-size="9.8" text-anchor="middle" fill="#2b2b2b" stroke="#2b2b2b" stroke-width="0.18">15</text>
<text transform="translate(317.3,746.4) scale(1,1.1)" font-size="9.8" text-anchor="middle" fill="#2b2b2b" stroke="#2b2b2b" stroke-width="0.18">1</text>
<line x1="75.0" y1="755.0" x2="77.0" y2="755.0" stroke="#3e3e3e" stroke-width="1.0"/>
<text transform="translate(72.8,758.5) scale(1,1.1)" font-size="9.8" text-anchor="end" fill="#2b2b2b" stroke="#2b2b2b" stroke-width="0.18">Medium</text>
<text transform="translate(89.3,758.5) scale(1,1.1)" font-size="9.8" text-anchor="middle" fill="#2b2b2b" stroke="#2b2b2b" stroke-width="0.18">39</text>
<text transform="translate(135.2,758.5) scale(1,1.1)" font-size="9.8" text-anchor="middle" fill="#2b2b2b" stroke="#2b2b2b" stroke-width="0.18">34</text>
<text transform="translate(180.9,758.5) scale(1,1.1)" font-size="9.8" text-anchor="middle" fill="#2b2b2b" stroke="#2b2b2b" stroke-width="0.18">32</text>
<text transform="translate(225.9,758.5) scale(1,1.1)" font-size="9.8" text-anchor="middle" fill="#2b2b2b" stroke="#2b2b2b" stroke-width="0.18">26</text>
<text transform="translate(272.9,758.5) scale(1,1.1)" font-size="9.8" text-anchor="middle" fill="#2b2b2b" stroke="#2b2b2b" stroke-width="0.18">25</text>
<text transform="translate(317.3,758.5) scale(1,1.1)" font-size="9.8" text-anchor="middle" fill="#2b2b2b" stroke="#2b2b2b" stroke-width="0.18">2</text>
<line x1="75.0" y1="767.0" x2="77.0" y2="767.0" stroke="#3e3e3e" stroke-width="1.0"/>
<text transform="translate(72.8,770.5) scale(1,1.1)" font-size="9.8" text-anchor="end" fill="#2b2b2b" stroke="#2b2b2b" stroke-width="0.18">High</text>
<text transform="translate(89.3,770.5) scale(1,1.1)" font-size="9.8" text-anchor="middle" fill="#2b2b2b" stroke="#2b2b2b" stroke-width="0.18">33</text>
<text transform="translate(135.2,770.5) scale(1,1.1)" font-size="9.8" text-anchor="middle" fill="#2b2b2b" stroke="#2b2b2b" stroke-width="0.18">23</text>
<text transform="translate(180.9,770.5) scale(1,1.1)" font-size="9.8" text-anchor="middle" fill="#2b2b2b" stroke="#2b2b2b" stroke-width="0.18">20</text>
<text transform="translate(225.9,770.5) scale(1,1.1)" font-size="9.8" text-anchor="middle" fill="#2b2b2b" stroke="#2b2b2b" stroke-width="0.18">15</text>
<text transform="translate(272.9,770.5) scale(1,1.1)" font-size="9.8" text-anchor="middle" fill="#2b2b2b" stroke="#2b2b2b" stroke-width="0.18">12</text>
<text transform="translate(317.3,770.5) scale(1,1.1)" font-size="9.8" text-anchor="middle" fill="#2b2b2b" stroke="#2b2b2b" stroke-width="0.18">2</text>
<line x1="88.4" y1="775.0" x2="88.4" y2="777.0" stroke="#3e3e3e" stroke-width="1.0"/>
<text transform="translate(88.10000000000001,785.2) scale(1,1.1)" font-size="9.8" text-anchor="middle" fill="#2b2b2b" stroke="#2b2b2b" stroke-width="0.18">0</text>
<line x1="134.5" y1="775.0" x2="134.5" y2="777.0" stroke="#3e3e3e" stroke-width="1.0"/>
<text transform="translate(134.2,785.2) scale(1,1.1)" font-size="9.8" text-anchor="middle" fill="#2b2b2b" stroke="#2b2b2b" stroke-width="0.18">1</text>
<line x1="179.9" y1="775.0" x2="179.9" y2="777.0" stroke="#3e3e3e" stroke-width="1.0"/>
<text transform="translate(179.6,785.2) scale(1,1.1)" font-size="9.8" text-anchor="middle" fill="#2b2b2b" stroke="#2b2b2b" stroke-width="0.18">2</text>
<line x1="225.4" y1="775.0" x2="225.4" y2="777.0" stroke="#3e3e3e" stroke-width="1.0"/>
<text transform="translate(225.1,785.2) scale(1,1.1)" font-size="9.8" text-anchor="middle" fill="#2b2b2b" stroke="#2b2b2b" stroke-width="0.18">3</text>
<line x1="271.5" y1="775.0" x2="271.5" y2="777.0" stroke="#3e3e3e" stroke-width="1.0"/>
<text transform="translate(271.2,785.2) scale(1,1.1)" font-size="9.8" text-anchor="middle" fill="#2b2b2b" stroke="#2b2b2b" stroke-width="0.18">4</text>
<line x1="316.7" y1="775.0" x2="316.7" y2="777.0" stroke="#3e3e3e" stroke-width="1.0"/>
<text transform="translate(316.4,785.2) scale(1,1.1)" font-size="9.8" text-anchor="middle" fill="#2b2b2b" stroke="#2b2b2b" stroke-width="0.18">5</text>
<text transform="translate(191.6,795.3) scale(1,1.1)" font-size="9.8" textLength="26.7" lengthAdjust="spacingAndGlyphs" fill="#2b2b2b" stroke="#2b2b2b" stroke-width="0.18">Years</text>
<text x="364.6" y="486.6" font-size="14.2" textLength="10.7" lengthAdjust="spacingAndGlyphs" fill="#2b2b2b" stroke="#2b2b2b" stroke-width="0.25">d.</text>
<text x="391.0" y="484.9" font-size="14.6" textLength="60.6" lengthAdjust="spacingAndGlyphs" fill="#2b2b2b" stroke="#2b2b2b" stroke-width="0.25">NEPTUNE</text>
<text x="455.7" y="484.9" font-size="13.8" textLength="3.6" lengthAdjust="spacingAndGlyphs" fill="#2b2b2b" stroke="#2b2b2b" stroke-width="0.25">-</text>
<text x="463.7" y="484.9" font-size="13.9" textLength="47.89" lengthAdjust="spacingAndGlyphs" fill="#2b2b2b" stroke="#2b2b2b" stroke-width="0.25">Tubular</text>
<text x="516.4" y="484.9" font-size="13.9" textLength="88.41" lengthAdjust="spacingAndGlyphs" fill="#2b2b2b" stroke="#2b2b2b" stroke-width="0.25">compartment</text>
<text transform="translate(399.9,505.0) scale(1,1.1)" font-size="9.6" textLength="27.1" lengthAdjust="spacingAndGlyphs" fill="#222" stroke="#222" stroke-width="0.18">Strata</text>
<line x1="435.4" y1="501.8" x2="461.0" y2="501.8" stroke="#aaa" stroke-width="2.0"/>
<text transform="translate(461.2,505.0) scale(1,1.1)" font-size="9.6" textLength="18.9" lengthAdjust="spacingAndGlyphs" fill="#222" stroke="#222" stroke-width="0.18">Low</text>
<text transform="translate(452.0,516.6) scale(1,1.1)" font-size="9.6" textLength="50.7" lengthAdjust="spacingAndGlyphs" fill="#222" stroke="#222" stroke-width="0.18">(7.52-8.67)</text>
<line x1="509.2" y1="501.8" x2="519.5" y2="501.8" stroke="#aaa" stroke-width="2.0"/>
<line x1="525.6" y1="501.8" x2="534.4" y2="501.8" stroke="#aaa" stroke-width="2.0"/>
<text transform="translate(534.4,505.0) scale(1,1.1)" font-size="9.6" textLength="36.6" lengthAdjust="spacingAndGlyphs" fill="#222" stroke="#222" stroke-width="0.18">Medium</text>
<text transform="translate(532.4,516.6) scale(1,1.1)" font-size="9.6" textLength="50.0" lengthAdjust="spacingAndGlyphs" fill="#222" stroke="#222" stroke-width="0.18">(8.69-9.26)</text>
<line x1="580.2" y1="502.0" x2="606.0" y2="502.0" stroke="#111" stroke-width="3.0"/>
<text transform="translate(606.1,505.0) scale(1,1.1)" font-size="9.6" textLength="20.3" lengthAdjust="spacingAndGlyphs" fill="#222" stroke="#222" stroke-width="0.18">High</text>
<text transform="translate(607.5,516.6) scale(1,1.1)" font-size="9.6" textLength="56.4" lengthAdjust="spacingAndGlyphs" fill="#222" stroke="#222" stroke-width="0.18">(9.27-10.80)</text>
<line x1="394.65" y1="521.0" x2="394.65" y2="697.7" stroke="#3e3e3e" stroke-width="1.35"/>
<line x1="394.0" y1="697.05" x2="685" y2="697.05" stroke="#3e3e3e" stroke-width="1.35"/>
<line x1="392.2" y1="529.1" x2="394.2" y2="529.1" stroke="#3e3e3e" stroke-width="1.0"/>
<text transform="translate(389.0,533.5) scale(1,1.1)" font-size="10.3" text-anchor="end" fill="#2b2b2b" stroke="#2b2b2b" stroke-width="0.18">1.00</text>
<line x1="392.2" y1="569.2" x2="394.2" y2="569.2" stroke="#3e3e3e" stroke-width="1.0"/>
<text transform="translate(389.0,573.6) scale(1,1.1)" font-size="10.3" text-anchor="end" fill="#2b2b2b" stroke="#2b2b2b" stroke-width="0.18">0.75</text>
<line x1="392.2" y1="609.3000000000001" x2="394.2" y2="609.3000000000001" stroke="#3e3e3e" stroke-width="1.0"/>
<text transform="translate(389.0,613.7) scale(1,1.1)" font-size="10.3" text-anchor="end" fill="#2b2b2b" stroke="#2b2b2b" stroke-width="0.18">0.50</text>
<line x1="392.2" y1="649.4000000000001" x2="394.2" y2="649.4000000000001" stroke="#3e3e3e" stroke-width="1.0"/>
<text transform="translate(389.0,653.8) scale(1,1.1)" font-size="10.3" text-anchor="end" fill="#2b2b2b" stroke="#2b2b2b" stroke-width="0.18">0.25</text>
<line x1="392.2" y1="689.5" x2="394.2" y2="689.5" stroke="#3e3e3e" stroke-width="1.0"/>
<text transform="translate(389.0,693.9) scale(1,1.1)" font-size="10.3" text-anchor="end" fill="#2b2b2b" stroke="#2b2b2b" stroke-width="0.18">0.00</text>
<line x1="407.7" y1="697.4" x2="407.7" y2="699.0" stroke="#3e3e3e" stroke-width="1.0"/>
<text transform="translate(408.59999999999997,712.5) scale(1,1.1)" font-size="9.8" text-anchor="middle" fill="#2b2b2b" stroke="#2b2b2b" stroke-width="0.18">0</text>
<line x1="460.46999999999997" y1="697.4" x2="460.46999999999997" y2="699.0" stroke="#3e3e3e" stroke-width="1.0"/>
<text transform="translate(461.36999999999995,712.5) scale(1,1.1)" font-size="9.8" text-anchor="middle" fill="#2b2b2b" stroke="#2b2b2b" stroke-width="0.18">1</text>
<line x1="513.24" y1="697.4" x2="513.24" y2="699.0" stroke="#3e3e3e" stroke-width="1.0"/>
<text transform="translate(514.14,712.5) scale(1,1.1)" font-size="9.8" text-anchor="middle" fill="#2b2b2b" stroke="#2b2b2b" stroke-width="0.18">2</text>
<line x1="566.01" y1="697.4" x2="566.01" y2="699.0" stroke="#3e3e3e" stroke-width="1.0"/>
<text transform="translate(566.91,712.5) scale(1,1.1)" font-size="9.8" text-anchor="middle" fill="#2b2b2b" stroke="#2b2b2b" stroke-width="0.18">3</text>
<line x1="618.78" y1="697.4" x2="618.78" y2="699.0" stroke="#3e3e3e" stroke-width="1.0"/>
<text transform="translate(619.68,712.5) scale(1,1.1)" font-size="9.8" text-anchor="middle" fill="#2b2b2b" stroke="#2b2b2b" stroke-width="0.18">4</text>
<line x1="671.55" y1="697.4" x2="671.55" y2="699.0" stroke="#3e3e3e" stroke-width="1.0"/>
<text transform="translate(672.4499999999999,712.5) scale(1,1.1)" font-size="9.8" text-anchor="middle" fill="#2b2b2b" stroke="#2b2b2b" stroke-width="0.18">5</text>
<text transform="translate(530.2,722.0) scale(1,1.1)" font-size="9.8" textLength="58.1" lengthAdjust="spacingAndGlyphs" fill="#2b2b2b" stroke="#2b2b2b" stroke-width="0.18">Time (years)</text>
<text transform="translate(414.0,659.8) scale(1,1.1)" font-size="9.8" textLength="47.1" lengthAdjust="spacingAndGlyphs" fill="#2b2b2b" stroke="#2b2b2b" stroke-width="0.18">p = 0.0047</text>
<polyline points="408.30,529.20 438.70,529.20 438.70,532.60 480.50,532.60 480.50,535.60 484.00,535.60 484.00,538.10 685.00,538.10" fill="none" stroke="#aaa" stroke-width="2.0"/>
<polyline points="408.30,529.20 451.00,529.20 451.00,535.90 486.00,535.90 486.00,539.60 548.90,539.60 548.90,544.60 563.80,544.60 563.80,550.00 685.00,550.00" fill="none" stroke="#aaa" stroke-width="2.0" stroke-dasharray="8 3.7"/>
<polyline points="408.30,529.20 423.00,529.20 423.00,533.30 448.80,533.30 448.80,537.70 455.40,537.70 455.40,542.30 489.00,542.30 489.00,546.50 498.20,546.50 498.20,551.40 507.50,551.40 507.50,556.50 528.50,556.50 528.50,561.30 563.20,561.30 563.20,566.40 587.80,566.40 587.80,572.40 590.80,572.40 590.80,578.40 616.20,578.40 616.20,583.80 665.00,583.80 665.00,636.40 686.00,636.40" fill="none" stroke="#111" stroke-width="2.8"/>
<text transform="translate(432.1,734.2) scale(1,1.1)" font-size="9.8" textLength="67.2" lengthAdjust="spacingAndGlyphs" fill="#2b2b2b" stroke="#2b2b2b" stroke-width="0.18">Number at risk</text>
<text transform="translate(386.6,771.7) rotate(-90) scale(1,1.1)" font-size="10.6" textLength="28.4" lengthAdjust="spacingAndGlyphs" fill="#2b2b2b">Strata</text>
<line x1="431.7" y1="739.8" x2="431.7" y2="779.6" stroke="#7a7a7a" stroke-width="1.5"/>
<line x1="431.0" y1="778.9" x2="685" y2="778.9" stroke="#7a7a7a" stroke-width="1.5"/>
<line x1="429.4" y1="747.3" x2="431.3" y2="747.3" stroke="#3e3e3e" stroke-width="1.0"/>
<text transform="translate(427.0,750.8) scale(1,1.1)" font-size="9.8" text-anchor="end" fill="#2b2b2b" stroke="#2b2b2b" stroke-width="0.18">Low</text>
<text transform="translate(443.0,750.2) scale(1,1.1)" font-size="8.2" text-anchor="middle" fill="#2b2b2b" stroke="#2b2b2b" stroke-width="0.18">45</text>
<text transform="translate(489.0,750.2) scale(1,1.1)" font-size="8.2" text-anchor="middle" fill="#2b2b2b" stroke="#2b2b2b" stroke-width="0.18">37</text>
<text transform="translate(535.0,750.2) scale(1,1.1)" font-size="8.2" text-anchor="middle" fill="#2b2b2b" stroke="#2b2b2b" stroke-width="0.18">30</text>
<text transform="translate(580.8,750.2) scale(1,1.1)" font-size="8.2" text-anchor="middle" fill="#2b2b2b" stroke="#2b2b2b" stroke-width="0.18">23</text>
<text transform="translate(627.3,750.2) scale(1,1.1)" font-size="8.2" text-anchor="middle" fill="#2b2b2b" stroke="#2b2b2b" stroke-width="0.18">19</text>
<text transform="translate(673.9,750.2) scale(1,1.1)" font-size="8.2" text-anchor="middle" fill="#2b2b2b" stroke="#2b2b2b" stroke-width="0.18">3</text>
<line x1="429.4" y1="759.6" x2="431.3" y2="759.6" stroke="#3e3e3e" stroke-width="1.0"/>
<text transform="translate(427.0,763.1) scale(1,1.1)" font-size="9.8" text-anchor="end" fill="#2b2b2b" stroke="#2b2b2b" stroke-width="0.18">Medium</text>
<text transform="translate(443.0,762.5) scale(1,1.1)" font-size="8.2" text-anchor="middle" fill="#2b2b2b" stroke="#2b2b2b" stroke-width="0.18">50</text>
<text transform="translate(489.0,762.5) scale(1,1.1)" font-size="8.2" text-anchor="middle" fill="#2b2b2b" stroke="#2b2b2b" stroke-width="0.18">43</text>
<text transform="translate(535.0,762.5) scale(1,1.1)" font-size="8.2" text-anchor="middle" fill="#2b2b2b" stroke="#2b2b2b" stroke-width="0.18">35</text>
<text transform="translate(580.8,762.5) scale(1,1.1)" font-size="8.2" text-anchor="middle" fill="#2b2b2b" stroke="#2b2b2b" stroke-width="0.18">26</text>
<text transform="translate(627.3,762.5) scale(1,1.1)" font-size="8.2" text-anchor="middle" fill="#2b2b2b" stroke="#2b2b2b" stroke-width="0.18">23</text>
<text transform="translate(673.9,762.5) scale(1,1.1)" font-size="8.2" text-anchor="middle" fill="#2b2b2b" stroke="#2b2b2b" stroke-width="0.18">4</text>
<line x1="429.4" y1="771.9" x2="431.3" y2="771.9" stroke="#3e3e3e" stroke-width="1.0"/>
<text transform="translate(427.0,775.4) scale(1,1.1)" font-size="9.8" text-anchor="end" fill="#2b2b2b" stroke="#2b2b2b" stroke-width="0.18">High</text>
<text transform="translate(443.0,774.8) scale(1,1.1)" font-size="8.2" text-anchor="middle" fill="#2b2b2b" stroke="#2b2b2b" stroke-width="0.18">45</text>
<text transform="translate(489.0,774.8) scale(1,1.1)" font-size="8.2" text-anchor="middle" fill="#2b2b2b" stroke="#2b2b2b" stroke-width="0.18">32</text>
<text transform="translate(535.0,774.8) scale(1,1.1)" font-size="8.2" text-anchor="middle" fill="#2b2b2b" stroke="#2b2b2b" stroke-width="0.18">27</text>
<text transform="translate(580.8,774.8) scale(1,1.1)" font-size="8.2" text-anchor="middle" fill="#2b2b2b" stroke="#2b2b2b" stroke-width="0.18">22</text>
<text transform="translate(627.3,774.8) scale(1,1.1)" font-size="8.2" text-anchor="middle" fill="#2b2b2b" stroke="#2b2b2b" stroke-width="0.18">17</text>
<text transform="translate(673.9,774.8) scale(1,1.1)" font-size="8.2" text-anchor="middle" fill="#2b2b2b" stroke="#2b2b2b" stroke-width="0.18">1</text>
<line x1="442.9" y1="779.3" x2="442.9" y2="781.0" stroke="#3e3e3e" stroke-width="1.0"/>
<text transform="translate(444.9,790.2) scale(1,1.1)" font-size="9.8" text-anchor="middle" fill="#2b2b2b" stroke="#2b2b2b" stroke-width="0.18">0</text>
<line x1="489.0" y1="779.3" x2="489.0" y2="781.0" stroke="#3e3e3e" stroke-width="1.0"/>
<text transform="translate(491.0,790.2) scale(1,1.1)" font-size="9.8" text-anchor="middle" fill="#2b2b2b" stroke="#2b2b2b" stroke-width="0.18">1</text>
<line x1="535.2" y1="779.3" x2="535.2" y2="781.0" stroke="#3e3e3e" stroke-width="1.0"/>
<text transform="translate(537.2,790.2) scale(1,1.1)" font-size="9.8" text-anchor="middle" fill="#2b2b2b" stroke="#2b2b2b" stroke-width="0.18">2</text>
<line x1="581.3" y1="779.3" x2="581.3" y2="781.0" stroke="#3e3e3e" stroke-width="1.0"/>
<text transform="translate(583.3,790.2) scale(1,1.1)" font-size="9.8" text-anchor="middle" fill="#2b2b2b" stroke="#2b2b2b" stroke-width="0.18">3</text>
<line x1="627.4" y1="779.3" x2="627.4" y2="781.0" stroke="#3e3e3e" stroke-width="1.0"/>
<text transform="translate(629.4,790.2) scale(1,1.1)" font-size="9.8" text-anchor="middle" fill="#2b2b2b" stroke="#2b2b2b" stroke-width="0.18">4</text>
<line x1="673.5" y1="779.3" x2="673.5" y2="781.0" stroke="#3e3e3e" stroke-width="1.0"/>
<text transform="translate(675.5,790.2) scale(1,1.1)" font-size="9.8" text-anchor="middle" fill="#2b2b2b" stroke="#2b2b2b" stroke-width="0.18">5</text>
<text transform="translate(549.1,800.2) scale(1,1.1)" font-size="9.8" textLength="26.8" lengthAdjust="spacingAndGlyphs" fill="#2b2b2b" stroke="#2b2b2b" stroke-width="0.18">Years</text>
</svg>
</body></html>
